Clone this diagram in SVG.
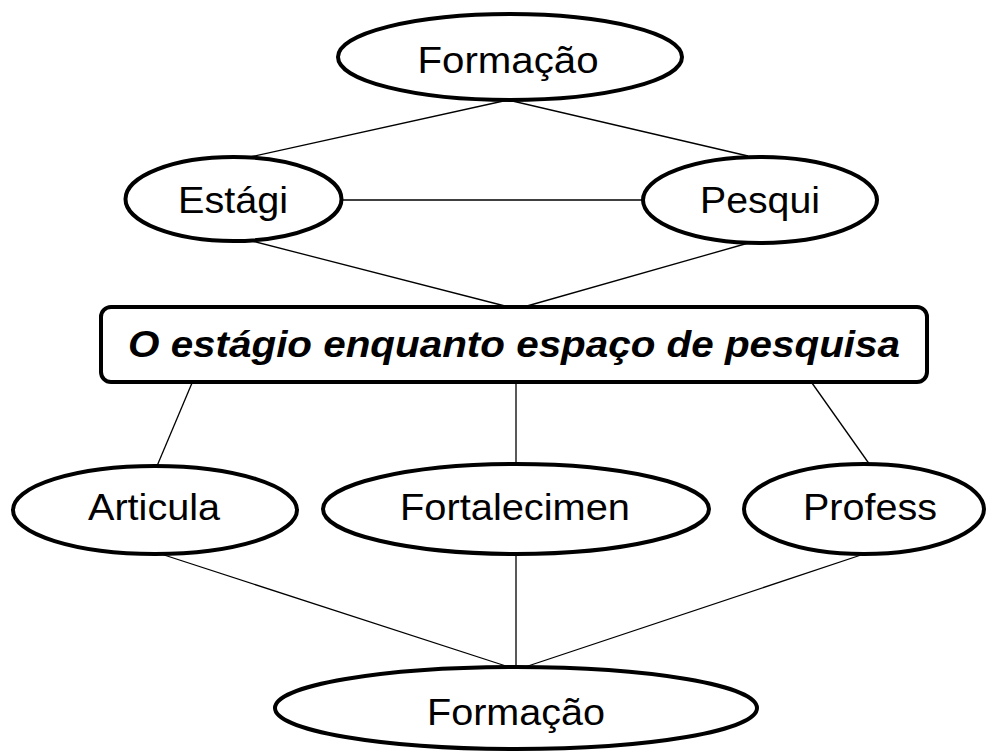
<svg xmlns="http://www.w3.org/2000/svg" width="992" height="752" viewBox="0 0 992 752">
<style>
  .node { fill: #ffffff; stroke: #000000; stroke-width: 4; }
  .lbl { font-family: "Liberation Sans", Arial, sans-serif; font-size: 36px; fill: #000000; text-anchor: middle; }
  .title { font-family: "Liberation Sans", Arial, sans-serif; font-size: 36px; font-weight: bold; font-style: italic; fill: #000000; text-anchor: middle; }
  .edge { stroke: #000000; stroke-width: 1.3; fill: none; }
</style>
<rect x="0" y="0" width="992" height="752" fill="#ffffff"/>
<g id="connectors">
  <line class="edge" x1="508" y1="100" x2="250" y2="157"/>
  <line class="edge" x1="508" y1="100" x2="748" y2="156"/>
  <line class="edge" x1="342" y1="200" x2="643" y2="200"/>
  <line class="edge" x1="252" y1="241" x2="505" y2="306"/>
  <line class="edge" x1="752" y1="242" x2="527" y2="306"/>
  <line class="edge" x1="192" y1="383" x2="157" y2="466"/>
  <line class="edge" x1="516" y1="383" x2="516" y2="464"/>
  <line class="edge" x1="812" y1="383" x2="870" y2="465"/>
  <line class="edge" x1="161" y1="554" x2="509" y2="667"/>
  <line class="edge" x1="516" y1="554" x2="516" y2="667"/>
  <line class="edge" x1="867" y1="553" x2="525" y2="667"/>
</g>
<g id="formacao-top">
  <ellipse class="node" cx="510" cy="57" rx="172" ry="43"/>
  <text class="lbl" x="508" y="73" textLength="181" lengthAdjust="spacingAndGlyphs">Formação</text>
</g>
<g id="estagi">
  <ellipse class="node" cx="233.5" cy="199" rx="108" ry="42"/>
  <text class="lbl" x="233" y="213" textLength="110" lengthAdjust="spacingAndGlyphs">Estági</text>
</g>
<g id="pesqui">
  <ellipse class="node" cx="760" cy="200" rx="117" ry="43"/>
  <text class="lbl" x="760" y="213" textLength="120" lengthAdjust="spacingAndGlyphs">Pesqui</text>
</g>
<g id="central">
  <rect class="node" x="101" y="307" width="826" height="75" rx="10" ry="10"/>
  <text class="title" x="514" y="357" textLength="772" lengthAdjust="spacingAndGlyphs">O estágio enquanto espaço de pesquisa</text>
</g>
<g id="articula">
  <ellipse class="node" cx="155" cy="510" rx="142" ry="44"/>
  <text class="lbl" x="154" y="520" textLength="132" lengthAdjust="spacingAndGlyphs">Articula</text>
</g>
<g id="fortalecimen">
  <ellipse class="node" cx="516" cy="509" rx="193" ry="45"/>
  <text class="lbl" x="515" y="520" textLength="230" lengthAdjust="spacingAndGlyphs">Fortalecimen</text>
</g>
<g id="profess">
  <ellipse class="node" cx="864" cy="509" rx="120" ry="45"/>
  <text class="lbl" x="870" y="520" textLength="134" lengthAdjust="spacingAndGlyphs">Profess</text>
</g>
<g id="formacao-bottom">
  <ellipse class="node" cx="516" cy="708" rx="241" ry="41"/>
  <text class="lbl" x="516" y="725" textLength="178" lengthAdjust="spacingAndGlyphs">Formação</text>
</g>
</svg>
